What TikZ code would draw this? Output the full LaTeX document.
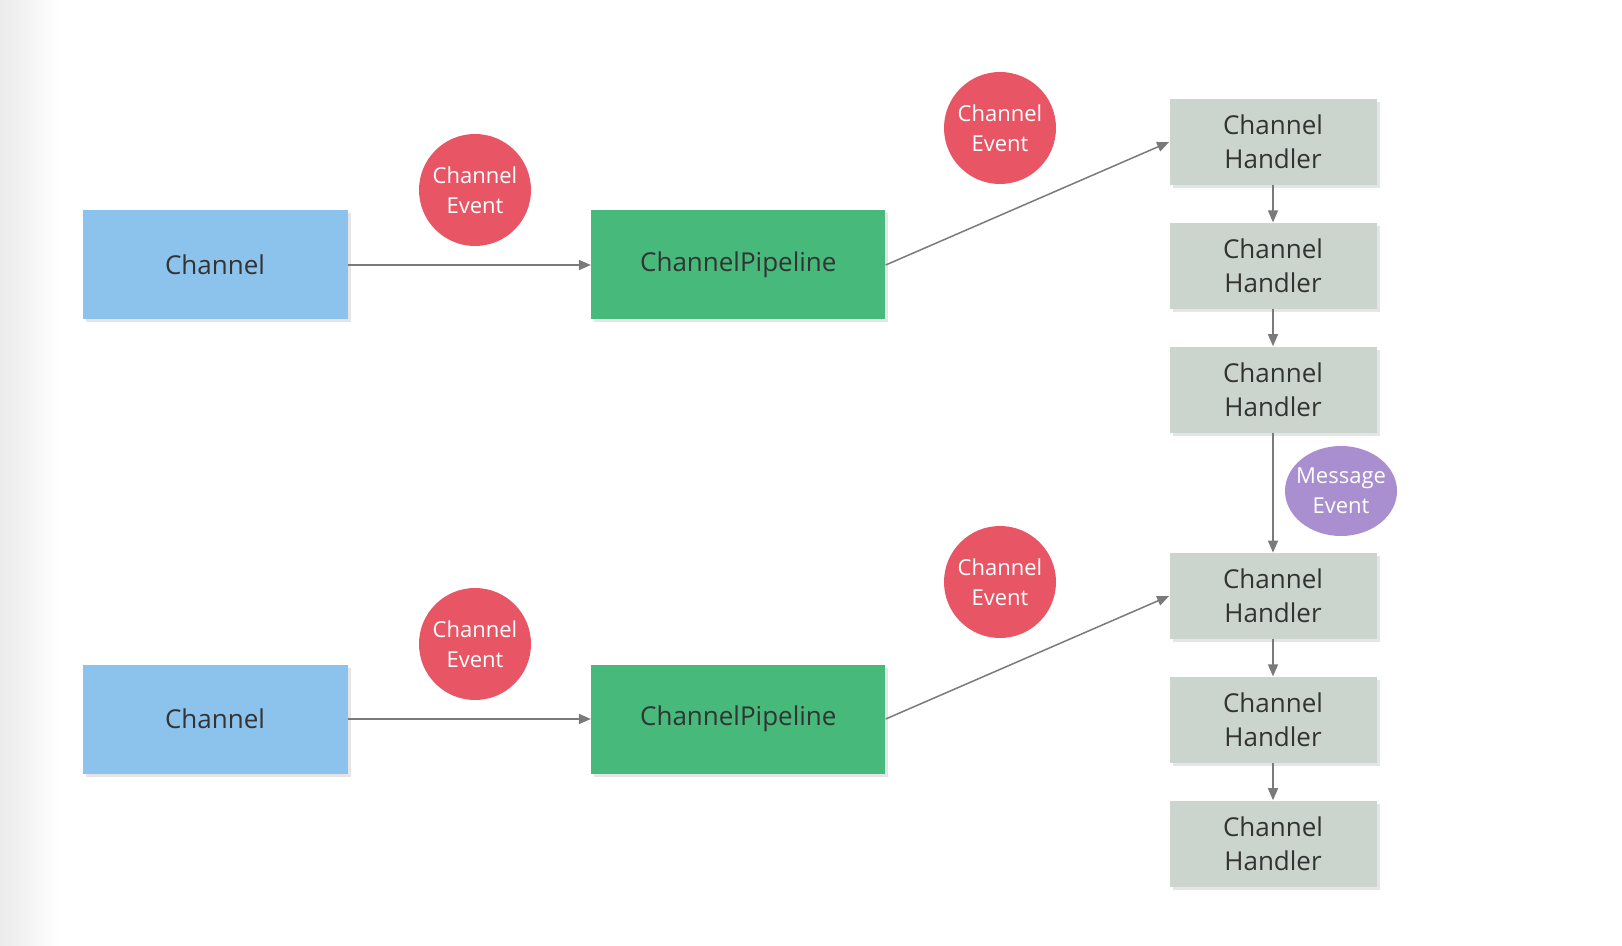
\documentclass[tikz,border=0pt]{standalone}
\usepackage{fontspec}
\setmainfont{Open Sans}
\usetikzlibrary{arrows.meta,shadows,positioning,shapes.geometric}

\definecolor{chanblue}{HTML}{8CC3EC}
\definecolor{pipegreen}{HTML}{46B97B}
\definecolor{eventred}{HTML}{E85565}
\definecolor{msgpurple}{HTML}{A98FCF}
\definecolor{handlergray}{HTML}{CBD5CD}
\definecolor{textdark}{HTML}{333333}
\definecolor{linegray}{HTML}{7A7A7A}

\tikzset{
  box/.style={rectangle, inner sep=0pt, align=center, text=textdark,
    font=\fontsize{13}{17}\selectfont,
    drop shadow={shadow xshift=1.5pt, shadow yshift=-1.5pt, fill=black!10, opacity=1}},
  channel/.style={box, fill=chanblue, minimum width=132.5pt, minimum height=54.5pt},
  pipeline/.style={box, fill=pipegreen, minimum width=147pt, minimum height=54.5pt},
  handler/.style={box, fill=handlergray, minimum width=103.5pt, minimum height=43pt},
  event/.style={circle, fill=eventred, minimum size=56pt, inner sep=0pt, align=center,
    text=white, font=\fontsize{11}{15}\selectfont},
  msgevent/.style={ellipse, fill=msgpurple, minimum width=56pt, minimum height=45pt,
    inner xsep=-3.5pt, inner ysep=0pt, align=center, text=white,
    font=\fontsize{11}{15}\selectfont},
  flow/.style={draw=linegray, line width=0.75pt, -{Triangle[length=6pt,width=5pt]}}
}

\begin{document}
\begin{tikzpicture}[x=0.5pt, y=-0.5pt, node distance=18.5pt]
  % page and left fade
  \useasboundingbox (0,0) rectangle (1622,946);
  \fill[white] (0,0) rectangle (1622,946);
  \shade[left color=black!8, right color=white] (0,0) rectangle (60,946);

  % upper row
  \node[channel] (ch1) at (215,265) {Channel};
  \node[pipeline, right=121.5pt of ch1] (pipe1) {ChannelPipeline};
  \node[event] (ev1) at (475,190) {Channel\\Event};
  \node[event] (ev2) at (1000,128) {Channel\\Event};

  % lower row
  \node[channel] (ch2) at (215,719) {Channel};
  \node[pipeline, right=121.5pt of ch2] (pipe2) {ChannelPipeline};
  \node[event] (ev3) at (475,644) {Channel\\Event};
  \node[event] (ev4) at (1000,582) {Channel\\Event};

  % handler chain
  \node[handler] (h1) at (1273,142) {Channel\\Handler};
  \node[handler, below=of h1] (h2) {Channel\\Handler};
  \node[handler, below=of h2] (h3) {Channel\\Handler};
  \node[handler] (h4) at (1273,596) {Channel\\Handler};
  \node[handler, below=of h4] (h5) {Channel\\Handler};
  \node[handler, below=of h5] (h6) {Channel\\Handler};
  \node[msgevent] (msg) at (1341,491) {Message\\Event};

  % connectors
  \draw[flow] (ch1) -- (pipe1);
  \draw[flow] (ch2) -- (pipe2);
  \draw[flow] (pipe1.east) -- (h1.west);
  \draw[flow] (pipe2.east) -- (h4.west);
  \draw[flow] (h1) -- (h2);
  \draw[flow] (h2) -- (h3);
  \draw[flow] (h3) -- (h4);
  \draw[flow] (h4) -- (h5);
  \draw[flow] (h5) -- (h6);
\end{tikzpicture}
\end{document}
